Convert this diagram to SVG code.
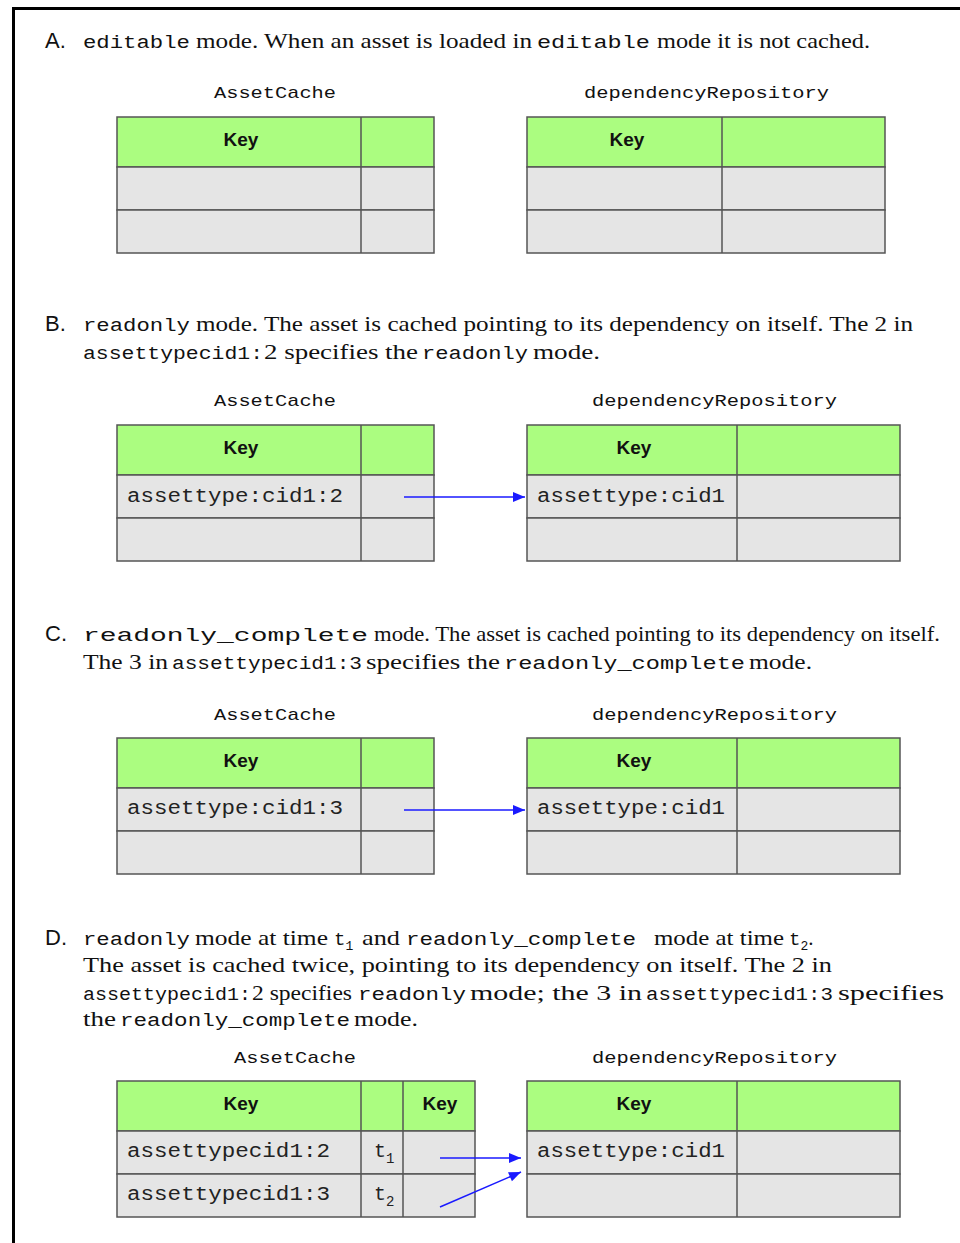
<svg xmlns="http://www.w3.org/2000/svg" width="960" height="1243" viewBox="0 0 960 1243">
<defs>
<style>
.frame{fill:none;stroke:#000;stroke-width:3}
.hdr{fill:#abfd80;stroke:#555;stroke-width:1.5}
.row{fill:#e5e5e5;stroke:#555;stroke-width:1.5}
.ln{stroke:#555;stroke-width:1.5}
.lbl{font-family:"Liberation Sans",Arial,sans-serif;font-size:22px;fill:#111}
.ser{font-family:"Liberation Serif","Times New Roman",serif;font-size:21px;fill:#111}
.mono{font-family:"Liberation Mono","Courier New",monospace;font-size:19px;fill:#111}
.ttl{font-family:"Liberation Mono","Courier New",monospace;font-size:17px;fill:#111}
.cell{font-family:"Liberation Mono","Courier New",monospace;font-size:20px;fill:#222}
.key{font-family:"Liberation Sans",Arial,sans-serif;font-size:19px;font-weight:bold;fill:#111;text-anchor:middle}
.arr{stroke:#1a1aff;stroke-width:1.5;fill:none;marker-end:url(#ah)}
</style>
<marker id="ah" viewBox="0 0 12 10" refX="12" refY="5" markerWidth="13" markerHeight="10" markerUnits="userSpaceOnUse" orient="auto"><path d="M0,0 L12,5 L0,10 z" fill="#1a1aff"/></marker>
</defs>
<rect width="960" height="1243" fill="#fff"/>
<path class="frame" d="M13.5,1243 V8.5 H960"/>

<g id="textA">
<text class="lbl" x="45" y="48">A.</text>
<text class="mono" x="83" y="48" textLength="107" lengthAdjust="spacingAndGlyphs">editable</text>
<text class="ser" x="196" y="48" textLength="336" lengthAdjust="spacingAndGlyphs">mode. When an asset is loaded in</text>
<text class="mono" x="537" y="48" textLength="113" lengthAdjust="spacingAndGlyphs">editable</text>
<text class="ser" x="657" y="48" textLength="213" lengthAdjust="spacingAndGlyphs">mode it is not cached.</text>
</g>

<g id="A-cache">
<text class="ttl" x="214" y="98" textLength="122" lengthAdjust="spacingAndGlyphs">AssetCache</text>
<rect class="hdr" x="117" y="117" width="317" height="50"/>
<rect class="row" x="117" y="167" width="317" height="43"/>
<rect class="row" x="117" y="210" width="317" height="43"/>
<line class="ln" x1="361" y1="117" x2="361" y2="253"/>
<text class="key" x="241" y="146">Key</text>
</g>
<g id="A-dep">
<text class="ttl" x="584" y="98" textLength="245" lengthAdjust="spacingAndGlyphs">dependencyRepository</text>
<rect class="hdr" x="527" y="117" width="358" height="50"/>
<rect class="row" x="527" y="167" width="358" height="43"/>
<rect class="row" x="527" y="210" width="358" height="43"/>
<line class="ln" x1="722" y1="117" x2="722" y2="253"/>
<text class="key" x="627" y="146">Key</text>
</g>

<g id="textB">
<text class="lbl" x="45" y="331">B.</text>
<text class="mono" x="83" y="331" textLength="107" lengthAdjust="spacingAndGlyphs">readonly</text>
<text class="ser" x="196" y="331" textLength="717" lengthAdjust="spacingAndGlyphs">mode. The asset is cached pointing to its dependency on itself. The 2 in</text>
<text class="mono" x="83" y="359" textLength="180" lengthAdjust="spacingAndGlyphs">assettypecid1:</text>
<text class="ser" x="264" y="359" textLength="154" lengthAdjust="spacingAndGlyphs">2 specifies the</text>
<text class="mono" x="422" y="359" textLength="106" lengthAdjust="spacingAndGlyphs">readonly</text>
<text class="ser" x="533" y="359" textLength="67" lengthAdjust="spacingAndGlyphs">mode.</text>
</g>

<g id="B-cache">
<text class="ttl" x="214" y="406" textLength="122" lengthAdjust="spacingAndGlyphs">AssetCache</text>
<rect class="hdr" x="117" y="425" width="317" height="50"/>
<rect class="row" x="117" y="475" width="317" height="43"/>
<rect class="row" x="117" y="518" width="317" height="43"/>
<line class="ln" x1="361" y1="425" x2="361" y2="561"/>
<text class="key" x="241" y="454">Key</text>
<text class="cell" x="127" y="502" textLength="216" lengthAdjust="spacingAndGlyphs">assettype:cid1:2</text>
</g>
<g id="B-dep">
<text class="ttl" x="592" y="406" textLength="245" lengthAdjust="spacingAndGlyphs">dependencyRepository</text>
<rect class="hdr" x="527" y="425" width="373" height="50"/>
<rect class="row" x="527" y="475" width="373" height="43"/>
<rect class="row" x="527" y="518" width="373" height="43"/>
<line class="ln" x1="737" y1="425" x2="737" y2="561"/>
<text class="key" x="634" y="454">Key</text>
<text class="cell" x="537" y="502" textLength="188" lengthAdjust="spacingAndGlyphs">assettype:cid1</text>
</g>

<g id="textC">
<text class="lbl" x="45" y="641">C.</text>
<text class="mono" x="83" y="641" textLength="285" lengthAdjust="spacingAndGlyphs">readonly_complete</text>
<text class="ser" x="374" y="641" textLength="566" lengthAdjust="spacingAndGlyphs">mode. The asset is cached pointing to its dependency on itself.</text>
<text class="ser" x="83" y="669" textLength="85" lengthAdjust="spacingAndGlyphs">The 3 in</text>
<text class="mono" x="172" y="669" textLength="190" lengthAdjust="spacingAndGlyphs">assettypecid1:3</text>
<text class="ser" x="366" y="669" textLength="134" lengthAdjust="spacingAndGlyphs">specifies the</text>
<text class="mono" x="504" y="669" textLength="241" lengthAdjust="spacingAndGlyphs">readonly_complete</text>
<text class="ser" x="749" y="669" textLength="63" lengthAdjust="spacingAndGlyphs">mode.</text>
</g>

<g id="C-cache">
<text class="ttl" x="214" y="720" textLength="122" lengthAdjust="spacingAndGlyphs">AssetCache</text>
<rect class="hdr" x="117" y="738" width="317" height="50"/>
<rect class="row" x="117" y="788" width="317" height="43"/>
<rect class="row" x="117" y="831" width="317" height="43"/>
<line class="ln" x1="361" y1="738" x2="361" y2="874"/>
<text class="key" x="241" y="767">Key</text>
<text class="cell" x="127" y="814" textLength="216" lengthAdjust="spacingAndGlyphs">assettype:cid1:3</text>
</g>
<g id="C-dep">
<text class="ttl" x="592" y="720" textLength="245" lengthAdjust="spacingAndGlyphs">dependencyRepository</text>
<rect class="hdr" x="527" y="738" width="373" height="50"/>
<rect class="row" x="527" y="788" width="373" height="43"/>
<rect class="row" x="527" y="831" width="373" height="43"/>
<line class="ln" x1="737" y1="738" x2="737" y2="874"/>
<text class="key" x="634" y="767">Key</text>
<text class="cell" x="537" y="814" textLength="188" lengthAdjust="spacingAndGlyphs">assettype:cid1</text>
</g>

<g id="textD">
<text class="lbl" x="45" y="945">D.</text>
<text class="mono" x="83" y="945" textLength="107" lengthAdjust="spacingAndGlyphs">readonly</text>
<text class="ser" x="195" y="945" textLength="133" lengthAdjust="spacingAndGlyphs">mode at time</text>
<text class="mono" x="334" y="945">t<tspan font-size="13" dy="5">1</tspan></text>
<text class="ser" x="362" y="945" textLength="38" lengthAdjust="spacingAndGlyphs">and</text>
<text class="mono" x="406" y="945" textLength="230" lengthAdjust="spacingAndGlyphs">readonly_complete</text>
<text class="ser" x="654" y="945" textLength="130" lengthAdjust="spacingAndGlyphs">mode at time</text>
<text class="mono" x="789" y="945">t<tspan font-size="13" dy="5">2</tspan><tspan class="ser" dy="-5">.</tspan></text>
<text class="ser" x="83" y="972" textLength="749" lengthAdjust="spacingAndGlyphs">The asset is cached twice, pointing to its dependency on itself. The 2 in</text>
<text class="mono" x="83" y="1000" textLength="168" lengthAdjust="spacingAndGlyphs">assettypecid1:</text>
<text class="ser" x="252" y="1000" textLength="100" lengthAdjust="spacingAndGlyphs">2 specifies</text>
<text class="mono" x="358" y="1000" textLength="108" lengthAdjust="spacingAndGlyphs">readonly</text>
<text class="ser" x="470" y="1000" textLength="172" lengthAdjust="spacingAndGlyphs">mode; the 3 in</text>
<text class="mono" x="646" y="1000" textLength="187" lengthAdjust="spacingAndGlyphs">assettypecid1:3</text>
<text class="ser" x="838" y="1000" textLength="106" lengthAdjust="spacingAndGlyphs">specifies</text>
<text class="ser" x="83" y="1026" textLength="33" lengthAdjust="spacingAndGlyphs">the</text>
<text class="mono" x="120" y="1026" textLength="230" lengthAdjust="spacingAndGlyphs">readonly_complete</text>
<text class="ser" x="354" y="1026" textLength="64" lengthAdjust="spacingAndGlyphs">mode.</text>
</g>

<g id="D-cache">
<text class="ttl" x="234" y="1063" textLength="122" lengthAdjust="spacingAndGlyphs">AssetCache</text>
<rect class="hdr" x="117" y="1081" width="358" height="50"/>
<rect class="row" x="117" y="1131" width="358" height="43"/>
<rect class="row" x="117" y="1174" width="358" height="43"/>
<line class="ln" x1="361" y1="1081" x2="361" y2="1217"/>
<line class="ln" x1="403" y1="1081" x2="403" y2="1217"/>
<text class="key" x="241" y="1110">Key</text>
<text class="key" x="440" y="1110">Key</text>
<text class="cell" x="127" y="1157" textLength="203" lengthAdjust="spacingAndGlyphs">assettypecid1:2</text>
<text class="cell" x="127" y="1200" textLength="203" lengthAdjust="spacingAndGlyphs">assettypecid1:3</text>
<text class="cell" x="374" y="1157">t<tspan font-size="14" dy="6">1</tspan></text>
<text class="cell" x="374" y="1200">t<tspan font-size="14" dy="6">2</tspan></text>
</g>
<g id="D-dep">
<text class="ttl" x="592" y="1063" textLength="245" lengthAdjust="spacingAndGlyphs">dependencyRepository</text>
<rect class="hdr" x="527" y="1081" width="373" height="50"/>
<rect class="row" x="527" y="1131" width="373" height="43"/>
<rect class="row" x="527" y="1174" width="373" height="43"/>
<line class="ln" x1="737" y1="1081" x2="737" y2="1217"/>
<text class="key" x="634" y="1110">Key</text>
<text class="cell" x="537" y="1157" textLength="188" lengthAdjust="spacingAndGlyphs">assettype:cid1</text>
</g>

<g id="connectors">
<line class="arr" x1="404" y1="497" x2="525" y2="497"/>
<line class="arr" x1="404" y1="810" x2="525" y2="810"/>
<line class="arr" x1="440" y1="1158" x2="521" y2="1158"/>
<line class="arr" x1="440" y1="1207" x2="521" y2="1172"/>
</g>
</svg>
